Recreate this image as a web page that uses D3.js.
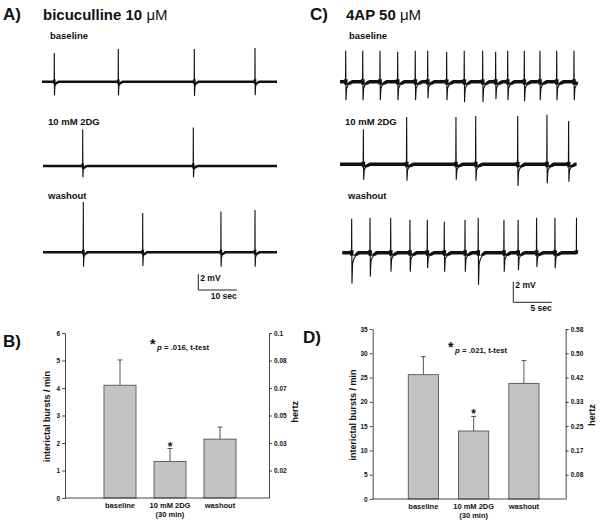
<!DOCTYPE html>
<html><head><meta charset="utf-8">
<script src="https://cdn.jsdelivr.net/npm/d3@7"></script>
<style>body{margin:0;background:#fff} text{font-family:"Liberation Sans",Arial,sans-serif;fill:#111}</style>
</head><body><svg id="c" width="600" height="523"></svg>
<script>
// ---------- DATA ----------
const barCategories = ["baseline", "10 mM 2DG", "washout"];
const barLabelLine2 = ["", "(30 min)", ""];

const bicBurstMeans = [4.1, 1.33, 2.14];
const bicBurstErr = [0.92, 0.47, 0.44];
const bicLeftTicks = [0, 1, 2, 3, 4, 5, 6];
const bicHertzTicks = [1, 2, 3, 4, 5, 6];
const bicHertzLabels = ["0.02", "0.03", "0.05", "0.07", "0.08", "0.1"];
const bicPText = ".016, t-test";

const fapBurstMeans = [25.6, 14.0, 23.8];
const fapBurstErr = [3.7, 3.0, 4.7];
const fapLeftTicks = [0, 5, 10, 15, 20, 25, 30, 35];
const fapHertzTicks = [5, 10, 15, 20, 25, 30, 35];
const fapHertzLabels = ["0.08", "0.17", "0.25", "0.33", "0.42", "0.50", "0.58"];
const fapPText = ".021, t-test";

// traces: spike times (s), peak (mV), trough (mV)
const traceRows = ["baseline", "10 mM 2DG", "washout"];
const bicSpikeTimes = [[3.2, 19.87, 39.66, 55.47], [10.6, 39.4], [10.76, 26.22, 46.6, 55.47]];
const bicSpikePeaks = [[3.6, 4.1, 4.1, 4.2], [4.6, 4.8], [6.3, 4.9, 5.1, 5.3]];
const bicSpikeTroughs = [[-1.7, -1.7, -1.8, -1.7], [-1.4, -1.4], [-1.8, -1.7, -1.8, -1.8]];
const bicTraceSpan = [[0, 61.2], [0.25, 61.2], [0.25, 61.2]];

const fapSpikeTimes = [
  [0.74, 2.96, 5.21, 7.51, 9.80, 11.42, 13.89, 16.18, 18.58, 20.27, 21.84, 24.0, 26.04, 28.22, 30.47],
  [3.04, 8.68, 15.1, 17.67, 23.14, 26.95, 29.77],
  [1.52, 3.91, 6.6, 9.11, 11.37, 13.58, 16.28, 18.0, 21.35, 23.2, 25.6, 27.99, 30.8]];
const fapSpikePeaks = [
  [3.0, 3.0, 3.0, 2.9, 3.0, 3.0, 2.9, 3.0, 3.0, 2.9, 3.0, 3.0, 3.0, 3.0, 3.0],
  [3.4, 4.6, 4.6, 4.7, 4.7, 4.8, 4.2],
  [3.3, 3.4, 3.4, 3.2, 3.2, 3.0, 3.2, 3.4, 3.2, 3.2, 3.4, 3.4, 3.4]];
const fapSpikeTroughs = [
  [-1.8, -1.8, -1.8, -1.8, -1.8, -1.6, -1.8, -2.0, -2.0, -1.7, -1.8, -1.9, -1.8, -1.8, -1.8],
  [-1.5, -1.6, -1.5, -1.6, -2.1, -1.85, -1.7],
  [-3.0, -2.3, -1.85, -1.85, -1.5, -1.85, -1.85, -3.1, -1.85, -1.7, -1.4, -1.5, -2.2]];
const fapTraceSpan = [[0, 30.8], [0, 30.8], [0.3, 30.8]];

// spike waveform template (relative time in s, weight of peak, weight of trough)
const spikeDt = [-0.03, 0, 0.05, 0.15, 0.35, 0.7, 1.1];
const spikePk = [0, 1, 0, 0, 0, 0, 0];
const spikeTr = [0, 0, 1, 0.35, 0.2, 0.08, 0];

// ---------- DRAW ----------
const svg = d3.select("#c");

function tracePoints(span, times, peaks, troughs, k) {
  const pts = [[span[0], 0]];
  times.forEach((t, i) => {
    spikeDt.forEach((dt, j) => pts.push([t + dt * k, peaks[i] * spikePk[j] + troughs[i] * spikeTr[j]]));
  });
  pts.push([span[1], 0]);
  return pts.filter(p => p[0] >= span[0] && p[0] <= span[1]);
}

let clipId = 0;
function drawTraces(cfg) {
  const x = d3.scaleLinear().domain(cfg.tDomain).range(cfg.xRange);
  cfg.rowBase.forEach((base, r) => {
    const y = d3.scaleLinear().domain([0, 2]).range([base, base - cfg.pxPer2mV]);
    const pts = tracePoints(cfg.span[r], cfg.times[r], cfg.peaks[r], cfg.troughs[r], cfg.hookK);
    const line = d3.line().x(d => x(d[0])).y(d => y(d[1]));
    svg.append("path").attr("d", line(pts)).attr("fill", "none")
      .attr("stroke", "#111").attr("stroke-width", 1.1);
    const id = "clip" + (clipId++);
    svg.append("clipPath").attr("id", id).append("rect")
      .attr("x", 0).attr("width", 600).attr("y", base - 2.5).attr("height", cfg.bandBelow + 2.5);
    svg.append("path").attr("d", line(pts)).attr("fill", "none")
      .attr("stroke", "#111").attr("stroke-width", cfg.band).attr("stroke-linejoin", "round")
      .attr("clip-path", `url(#${id})`);
    svg.append("text").attr("x", cfg.labelX[r]).attr("y", cfg.labelY[r])
      .attr("font-size", 9.5).attr("font-weight", "bold").text(traceRows[r]);
  });
  // scale bar
  const sb = cfg.scaleBar;
  const y0 = sb.bottom;
  const yS = d3.scaleLinear().domain([0, 2]).range([y0, y0 - cfg.pxPer2mV]);
  svg.append("path")
    .attr("d", `M${x(sb.t)},${yS(sb.mV)}V${yS(0)}H${x(sb.t + sb.sec)}`)
    .attr("fill", "none").attr("stroke", "#222").attr("stroke-width", 1);
  svg.append("text").attr("x", x(sb.t) + 2).attr("y", yS(sb.mV) + 6.5)
    .attr("font-size", 8.5).attr("font-weight", "bold").text(sb.mV + " mV");
  svg.append("text").attr("x", x(sb.t + sb.sec)).attr("y", y0 + 8.8).attr("text-anchor", "end")
    .attr("font-size", 8.5).attr("font-weight", "bold").text(sb.sec + " sec");
}

drawTraces({
  tDomain: [0, 61.2], xRange: [42, 277], pxPer2mV: 16, rowBase: [81.7, 166, 252.3],
  span: bicTraceSpan, times: bicSpikeTimes, peaks: bicSpikePeaks, troughs: bicSpikeTroughs,
  band: 2.4, bandBelow: 2.5, hookK: 1, labelX: [50, 48, 48], labelY: [39, 125, 199],
  scaleBar: { t: 40.7, sec: 10, mV: 2, bottom: 290 }
});
drawTraces({
  tDomain: [0, 30.8], xRange: [340, 576.5], pxPer2mV: 20.6, rowBase: [81.7, 164.3, 252.7],
  span: fapTraceSpan, times: fapSpikeTimes, peaks: fapSpikePeaks, troughs: fapSpikeTroughs,
  band: 3.4, bandBelow: 3, hookK: 0.8, labelX: [349, 345, 348], labelY: [39, 124.5, 199],
  scaleBar: { t: 22.57, sec: 5, mV: 2, bottom: 302.3 }
});

// titles
function title(x, y, letter, tx, main) {
  svg.append("text").attr("x", x).attr("y", y).attr("font-size", 17).attr("font-weight", "bold").text(letter);
  if (main !== undefined) {
    const t = svg.append("text").attr("x", tx).attr("y", y).attr("font-size", 15).attr("font-weight", "bold");
    t.append("tspan").text(main);
    t.append("tspan").attr("font-weight", "normal").text("μM");
  }
}
title(3, 20, "A)", 43, "bicuculline 10 ");
title(310, 20, "C)", 346, "4AP 50 ");
title(3, 347, "B)");
title(303, 343, "D)");

// bar charts
function barChart(cfg) {
  const y = d3.scaleLinear().domain(cfg.yDomain).range([cfg.bottom, cfg.top]);
  const x = d3.scaleBand().domain(barCategories).range(cfg.barRange).paddingInner(cfg.padIn).paddingOuter(0);
  const g = svg.append("g");
  g.selectAll(".bar").data(cfg.means).join("rect")
    .attr("x", (d, i) => x(barCategories[i])).attr("width", x.bandwidth())
    .attr("y", d => y(d)).attr("height", d => y(0) - y(d))
    .attr("fill", "#c3c3c3").attr("stroke", "#555").attr("stroke-width", 0.9);
  cfg.means.forEach((m, i) => {
    const cx = x(barCategories[i]) + x.bandwidth() / 2;
    g.append("line").attr("x1", cx).attr("x2", cx).attr("y1", y(m)).attr("y2", y(m + cfg.err[i]))
      .attr("stroke", "#444").attr("stroke-width", 0.9);
    g.append("line").attr("x1", cx - 2.5).attr("x2", cx + 2.5).attr("y1", y(m + cfg.err[i])).attr("y2", y(m + cfg.err[i]))
      .attr("stroke", "#444").attr("stroke-width", 0.9);
  });
  const i2 = 1;
  g.append("text").attr("x", x(barCategories[i2]) + x.bandwidth() / 2).attr("y", y(cfg.means[i2] + cfg.err[i2]) + 2)
    .attr("text-anchor", "middle").attr("font-size", 12).attr("font-weight", "bold").text("*");
  const left = g.append("g").attr("transform", `translate(${cfg.left},0)`)
    .call(d3.axisLeft(y).tickValues(cfg.leftTicks).tickFormat(d3.format("d")).tickSize(3).tickSizeOuter(0).tickPadding(2));
  const right = g.append("g").attr("transform", `translate(${cfg.right},0)`)
    .call(d3.axisRight(y).tickValues(cfg.hzTicks).tickFormat((d, i) => cfg.hzLabels[i]).tickSize(3).tickSizeOuter(0).tickPadding(2));
  [left, right].forEach(a => {
    a.selectAll("path,line").attr("stroke", "#333").attr("stroke-width", 0.9);
    a.selectAll("text").attr("font-size", 6.5).attr("font-weight", "bold")
      .attr("font-family", "Liberation Sans, Arial, sans-serif").attr("fill", "#333");
  });
  g.append("line").attr("x1", cfg.left).attr("x2", cfg.right).attr("y1", y(0)).attr("y2", y(0))
    .attr("stroke", "#333").attr("stroke-width", 0.9);
  barCategories.forEach((c, i) => {
    const cx = x(c) + x.bandwidth() / 2;
    g.append("text").attr("x", cx).attr("y", cfg.bottom + 10.3).attr("text-anchor", "middle")
      .attr("font-size", 7.5).attr("font-weight", "bold").text(c);
    if (barLabelLine2[i]) g.append("text").attr("x", cx).attr("y", cfg.bottom + 19.3).attr("text-anchor", "middle")
      .attr("font-size", 7.5).attr("font-weight", "bold").text(barLabelLine2[i]);
  });
  g.append("text").attr("transform", `translate(${cfg.yTitleX},${cfg.yTitleY}) rotate(-90)`)
    .attr("text-anchor", "middle").attr("font-size", 9).attr("font-weight", "bold").text("interictal bursts / min");
  g.append("text").attr("transform", `translate(${cfg.hzTitleX},${cfg.hzTitleY}) rotate(-90)`)
    .attr("text-anchor", "middle").attr("font-size", 9).attr("font-weight", "bold").text("hertz");
  g.append("text").attr("x", cfg.pX - 7).attr("y", cfg.pY - 1).attr("font-size", 14).attr("font-weight", "bold").text("*");
  const pt = g.append("text").attr("x", cfg.pX).attr("y", cfg.pY).attr("font-size", 7.8).attr("font-weight", "bold");
  pt.append("tspan").attr("font-style", "italic").text("p");
  pt.append("tspan").text(" = " + cfg.pText);
}

barChart({
  yDomain: [0, 6], bottom: 498, top: 333, left: 65, right: 269, barRange: [104, 236], padIn: 0.36,
  means: bicBurstMeans, err: bicBurstErr, leftTicks: bicLeftTicks, hzTicks: bicHertzTicks, hzLabels: bicHertzLabels,
  yTitleX: 50, yTitleY: 416.5, hzTitleX: 298, hzTitleY: 411.7, pX: 157, pY: 350, pText: bicPText
});
barChart({
  yDomain: [0, 35], bottom: 499, top: 329, left: 372.7, right: 565.7, barRange: [408.3, 539], padIn: 0.4,
  means: fapBurstMeans, err: fapBurstErr, leftTicks: fapLeftTicks, hzTicks: fapHertzTicks, hzLabels: fapHertzLabels,
  yTitleX: 356, yTitleY: 415, hzTitleX: 595, hzTitleY: 415, pX: 455, pY: 353, pText: fapPText
});
</script></body></html>
